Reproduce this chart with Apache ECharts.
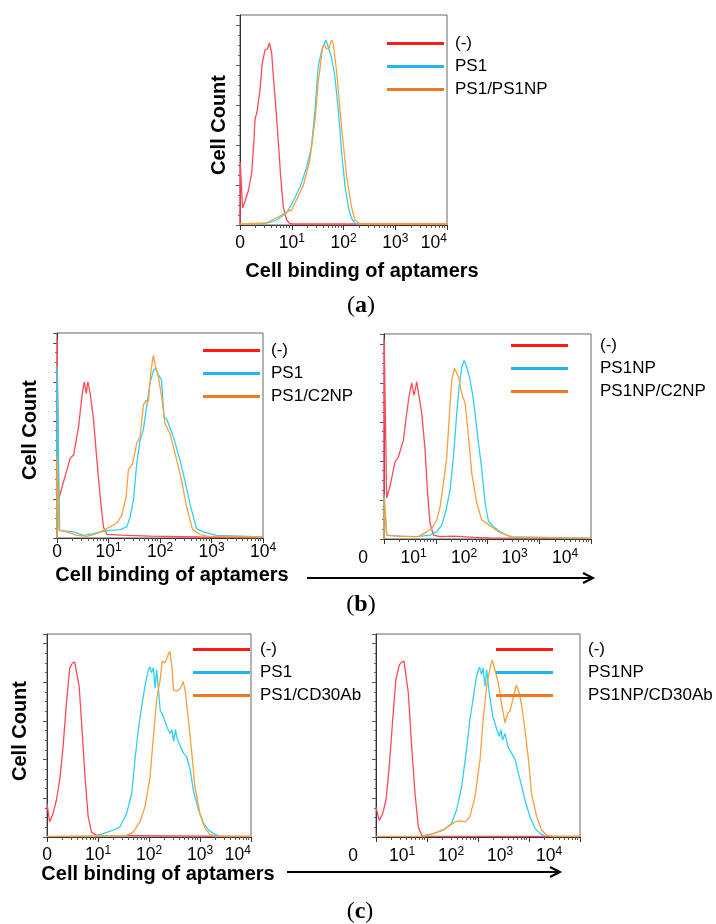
<!DOCTYPE html>
<html>
<head>
<meta charset="utf-8">
<script src="https://cdn.jsdelivr.net/npm/echarts@6.0.0/dist/echarts.min.js"></script>
<style>
  body { margin: 0; background: #fff; }
  #chart { width: 716px; height: 924px; }
</style>
</head>
<body>
<div id="chart"></div>
<script>
/* x values are in decades of the log axis (0 = left edge "0", 4 = 10^4), y in relative cell count */

var xTickLabels = ["0", "10^1", "10^2", "10^3", "10^4"];

// (a)
var aNeg = [[0,0],[0.004,6.3],[0.05,1.7],[0.10,2.4],[0.16,3.4],[0.226,5.2],[0.27,8.5],[0.29,10.6],[0.33,11.3],[0.386,13.5],[0.43,16.2],[0.483,17.5],[0.53,17.6],[0.567,18.2],[0.612,17.2],[0.65,14.5],[0.696,11.5],[0.741,8.3],[0.786,4.8],[0.837,1.8],[0.902,0.5],[0.96,0.15],[1.03,0.1],[4,0.1]];
var aPS1 = [[0.386,0.1],[0.6,0.3],[0.71,0.5],[0.90,1.2],[1.03,2.4],[1.16,3.8],[1.29,5.8],[1.38,7.8],[1.45,11.5],[1.51,15.8],[1.58,17.5],[1.66,18.5],[1.70,17.9],[1.77,16.7],[1.83,15.0],[1.90,11.5],[1.96,7.5],[2.03,3.8],[2.09,1.9],[2.15,0.7],[2.22,0.2],[2.3,0.05]];
var aPS1NP = [[0,0.1],[0.515,0.2],[0.77,0.9],[0.93,1.4],[1.0,1.5],[1.09,2.5],[1.22,3.9],[1.35,6.5],[1.45,10.5],[1.51,14.2],[1.60,17.9],[1.64,18.0],[1.67,17.6],[1.72,17.7],[1.77,18.5],[1.80,18.2],[1.87,15.2],[1.96,9.9],[2.06,4.9],[2.15,1.9],[2.22,0.5],[2.32,0.1],[4,0.1]];

// (b) left
var b1Neg = [[0,0],[0.003,20.5],[0.03,3.9],[0.097,5.2],[0.194,7.0],[0.258,8.2],[0.323,8.5],[0.419,11.4],[0.484,14.5],[0.529,16.0],[0.568,14.8],[0.60,16.0],[0.645,14.8],[0.71,12.1],[0.774,8.0],[0.839,4.2],[0.903,1.1],[0.968,0.38],[1.23,0.3],[1.81,0.2],[2.77,0.1],[4,0.07]];
var b1PS1 = [[0,0],[0.003,17.6],[0.052,0.79],[0.129,0.72],[0.323,0.62],[0.516,0.27],[0.71,0.45],[0.839,0.62],[1.032,0.79],[1.226,0.86],[1.355,1.13],[1.419,2.16],[1.484,3.87],[1.548,7.6],[1.613,10.0],[1.677,11.1],[1.742,13.5],[1.806,15.9],[1.871,17.1],[1.916,17.4],[1.968,16.7],[2.03,16.2],[2.077,12.4],[2.129,12.2],[2.258,10.4],[2.387,8.0],[2.484,5.9],[2.581,3.5],[2.71,0.96],[2.839,0.62],[3.097,0.27],[4,0.1]];
var b1C2NP = [[0,0],[0.003,8.3],[0.039,0.79],[0.194,0.62],[0.387,0.27],[0.581,0.17],[0.774,0.45],[0.968,0.96],[1.161,1.54],[1.258,2.33],[1.342,4.2],[1.387,7.0],[1.465,7.6],[1.548,9.7],[1.613,10.4],[1.677,13.6],[1.723,14.1],[1.774,14.0],[1.826,17.2],[1.871,18.7],[1.91,17.6],[1.968,16.5],[2.032,14.5],[2.097,11.7],[2.194,10.7],[2.323,8.0],[2.419,5.9],[2.516,3.2],[2.632,0.86],[2.774,0.38],[2.903,0.2],[4,0.1]];

// (b) right
var b2Neg = [[0,0],[0.003,20.5],[0.052,4.2],[0.116,5.4],[0.213,7.9],[0.277,8.4],[0.374,10.1],[0.439,12.9],[0.484,14.6],[0.535,16.0],[0.581,14.7],[0.632,16.1],[0.677,14.6],[0.729,12.9],[0.794,9.1],[0.839,5.0],[0.89,1.6],[0.955,0.4],[1.084,0.24],[1.342,0.3],[1.729,0.17],[2.05,0.1],[4,0.07]];
var b2PS1NP = [[0,0],[0.003,4.5],[0.052,0.4],[0.31,0.3],[0.632,0.24],[0.89,0.4],[1.02,0.75],[1.116,1.43],[1.2,3.0],[1.277,5.0],[1.342,8.4],[1.406,12.9],[1.458,15.9],[1.503,17.6],[1.548,18.3],[1.6,17.6],[1.665,16.3],[1.729,14.2],[1.794,11.2],[1.89,7.1],[1.955,3.65],[2.019,1.8],[2.116,1.26],[2.245,0.75],[2.374,0.4],[2.471,0.17],[4,0.07]];
var b2C2NP = [[0,0],[0.003,4.2],[0.052,0.4],[0.116,0.34],[0.44,0.24],[0.665,0.24],[0.826,0.75],[0.923,1.1],[1.02,1.95],[1.084,3.3],[1.148,5.7],[1.213,8.4],[1.265,12.9],[1.31,16.3],[1.361,17.5],[1.394,17.6],[1.439,16.6],[1.503,14.9],[1.568,13.9],[1.632,10.5],[1.697,6.7],[1.794,3.65],[1.89,1.95],[1.987,1.6],[2.116,1.1],[2.245,0.65],[2.374,0.4],[2.471,0.24],[4,0.07]];

// (c) left
var c1Neg = [[0,3.46],[0.052,1.56],[0.118,2.4],[0.184,3.8],[0.249,5.9],[0.315,9.3],[0.38,13.8],[0.446,17.5],[0.498,18.0],[0.544,18.1],[0.577,18.0],[0.63,15.6],[0.675,12.1],[0.741,6.6],[0.807,2.1],[0.872,0.5],[0.97,0.17],[4,0.07]];
var c1PS1 = [[0.97,0.17],[1.1,0.35],[1.3,0.7],[1.43,1.04],[1.56,2.4],[1.66,4.5],[1.725,8.0],[1.79,11.1],[1.856,13.5],[1.921,15.6],[1.987,17.3],[2.02,17.6],[2.05,17.0],[2.085,17.5],[2.12,15.4],[2.15,17.3],[2.18,15.6],[2.22,13.1],[2.28,12.5],[2.35,11.4],[2.41,10.7],[2.45,11.1],[2.48,9.9],[2.52,11.1],[2.55,10.2],[2.62,9.3],[2.68,8.65],[2.74,8.3],[2.81,6.9],[2.87,4.8],[2.97,2.8],[3.07,1.4],[3.17,0.7],[3.27,0.35],[3.36,0.14]];
var c1CD30 = [[0,0.07],[1.56,0.17],[1.69,0.5],[1.82,1.56],[1.92,3.1],[2.02,6.2],[2.08,10.0],[2.15,14.2],[2.22,16.3],[2.26,18.2],[2.31,18.0],[2.35,18.5],[2.38,18.9],[2.41,19.2],[2.45,17.6],[2.48,15.2],[2.55,15.1],[2.62,15.4],[2.67,16.1],[2.71,15.1],[2.78,11.8],[2.84,8.65],[2.9,5.2],[3.0,2.4],[3.1,0.87],[3.2,0.24],[3.33,0.07],[4,0.07]];

// (c) right
var c2Neg = [[0,3.1],[0.065,1.7],[0.13,2.4],[0.196,3.8],[0.26,7.3],[0.327,12.1],[0.39,16.3],[0.458,17.8],[0.503,18.1],[0.549,18.2],[0.588,18.0],[0.634,14.9],[0.70,9.3],[0.765,4.5],[0.83,1.04],[0.895,0.17],[1.06,0.07],[4,0.07]];
var c2PS1NP = [[0.93,0.14],[1.124,0.35],[1.32,0.7],[1.48,1.4],[1.58,2.8],[1.68,5.2],[1.78,9.3],[1.84,12.1],[1.91,14.5],[1.97,16.6],[2.03,17.6],[2.07,16.8],[2.10,17.5],[2.14,15.6],[2.17,17.3],[2.22,14.9],[2.29,12.5],[2.37,11.1],[2.42,10.4],[2.45,11.1],[2.48,10.0],[2.53,10.7],[2.59,9.3],[2.66,8.65],[2.73,8.0],[2.79,6.6],[2.86,5.2],[2.92,3.8],[3.02,2.1],[3.12,0.87],[3.22,0.35],[3.31,0.1]];
var c2CD30 = [[0,0.07],[0.93,0.07],[1.12,0.35],[1.32,0.76],[1.45,1.2],[1.55,1.56],[1.65,1.66],[1.75,1.56],[1.84,2.1],[1.94,4.15],[2.04,8.0],[2.10,12.1],[2.17,15.6],[2.24,17.6],[2.28,18.3],[2.33,17.3],[2.40,15.9],[2.47,13.5],[2.53,11.8],[2.58,12.8],[2.63,13.0],[2.68,14.2],[2.75,15.7],[2.80,15.1],[2.86,13.5],[2.92,11.1],[2.99,8.0],[3.05,4.5],[3.15,2.1],[3.25,0.7],[3.35,0.17],[3.48,0.07],[4,0.07]];

var font = "Liberation Sans";
var legendRed = "#ff1a1a", legendBlue = "#1fb6ef", legendOrange = "#ef7a22";
var lineRed = "#ff4a57", lineBlue = "#2fd0ef", lineOrange = "#f7a03c";

// minor ticks of the log axis, 2..9 in each decade
var minorTicks = [];
for (var d = 0; d < 4; d++) {
  for (var k = 2; k < 10; k++) {
    minorTicks.push(d + Math.log10(k));
  }
}

function tickLabel(value) {
  var s = xTickLabels[Math.round(value)];
  if (s.indexOf("^") < 0) return "{n|" + s + "}";
  var p = s.split("^");
  return "{n|" + p[0] + "}{s|" + p[1] + "}";
}

var labelRich = {
  n: { fontSize: 17.5, fontFamily: font, color: "#000", lineHeight: 20 },
  s: { fontSize: 12, fontFamily: font, color: "#000", lineHeight: 14, verticalAlign: "top" }
};

// plot boxes [left, top, width, height]
var boxes = [
  [240, 15, 207, 210],
  [57, 333, 206, 205],
  [384, 334, 207, 205],
  [47, 634, 204, 203],
  [376, 634, 204, 203]
];
// shifted tick label rows under the right hand plots
var labelRows = [
  [363, 539, 202],
  [353, 837, 196]
];

var grids = [], xAxes = [], yAxes = [];
boxes.forEach(function (b, i) {
  grids.push({
    left: b[0], top: b[1], width: b[2], height: b[3],
    show: true, borderColor: "#666", borderWidth: 1, containLabel: false
  });
  var showLabels = i === 0 || i === 1 || i === 3;
  xAxes.push({
    type: "value", gridIndex: i, min: 0, max: 4, interval: 1,
    axisLine: { show: true, onZero: false, lineStyle: { color: "#333", width: 1 } },
    axisTick: { show: true, length: 5, lineStyle: { color: "#333" } },
    splitLine: { show: false },
    axisLabel: {
      show: showLabels, margin: i === 1 ? 4 : 8, formatter: tickLabel, rich: labelRich,
      alignMaxLabel: i === 1 ? "center" : "right"
    }
  });
  xAxes.push({
    type: "value", gridIndex: i, min: 0, max: 4, position: "bottom",
    axisLine: { show: false },
    axisTick: { show: true, length: 3, customValues: minorTicks, lineStyle: { color: "#555" } },
    axisLabel: { show: false },
    splitLine: { show: false }
  });
  yAxes.push({
    type: "value", gridIndex: i, min: 0, max: 21, interval: 4,
    axisLine: { show: true, lineStyle: { color: "#333" } },
    axisTick: { show: true, length: 4, lineStyle: { color: "#555" } },
    minorTick: { show: true, splitNumber: 4, length: 2, lineStyle: { color: "#666" } },
    axisLabel: { show: false },
    splitLine: { show: false }
  });
});
labelRows.forEach(function (r, j) {
  var gi = boxes.length + j;
  grids.push({ left: r[0], top: r[1], width: r[2], height: 1, show: false });
  xAxes.push({
    type: "value", gridIndex: gi, min: 0, max: 4, interval: 1,
    axisLine: { show: false }, axisTick: { show: false }, splitLine: { show: false },
    axisLabel: { show: true, margin: 8, formatter: tickLabel, rich: labelRich }
  });
  yAxes.push({ type: "value", gridIndex: gi, show: false });
});

function curve(name, data, panel, kind) {
  var lc = kind === 0 ? lineRed : kind === 1 ? lineBlue : lineOrange;
  var ic = kind === 0 ? legendRed : kind === 1 ? legendBlue : legendOrange;
  return {
    name: name, type: "line", data: data,
    xAxisIndex: panel * 2, yAxisIndex: panel,
    showSymbol: false, symbol: "none", silent: true,
    itemStyle: { color: ic },
    lineStyle: { color: lc, width: 1.3 }
  };
}

var series = [
  curve("(-)", aNeg, 0, 0), curve("PS1", aPS1, 0, 1), curve("PS1/PS1NP", aPS1NP, 0, 2),
  curve("(-)", b1Neg, 1, 0), curve("PS1", b1PS1, 1, 1), curve("PS1/C2NP", b1C2NP, 1, 2),
  curve("(-)", b2Neg, 2, 0), curve("PS1NP", b2PS1NP, 2, 1), curve("PS1NP/C2NP", b2C2NP, 2, 2),
  curve("(-)", c1Neg, 3, 0), curve("PS1", c1PS1, 3, 1), curve("PS1/CD30Ab", c1CD30, 3, 2),
  curve("(-)", c2Neg, 4, 0), curve("PS1NP", c2PS1NP, 4, 1), curve("PS1NP/CD30Ab", c2CD30, 4, 2)
];

function legendBox(names, left, top, textGap) {
  return {
    data: names, left: left, top: top, orient: "vertical",
    padding: 0, itemGap: 6, itemWidth: 57, itemHeight: 3, icon: "rect",
    selectedMode: false,
    textStyle: { fontSize: 17, fontFamily: font, color: "#000", lineHeight: 17, padding: [0, 0, 0, textGap] }
  };
}

var legends = [
  legendBox(["(-)", "PS1", "PS1/PS1NP"], 387, 35, 6),
  legendBox(["(-)", "PS1", "PS1/C2NP"], 203, 342, 6),
  legendBox(["(-)", "PS1NP", "PS1NP/C2NP"], 511, 337, 27),
  legendBox(["(-)", "PS1", "PS1/CD30Ab"], 193, 641, 5),
  legendBox(["(-)", "PS1NP", "PS1NP/CD30Ab"], 496, 641, 30)
];

var titleFont = "bold 20px " + font;
function yTitle(x, y) {
  return { type: "text", x: x, y: y, rotation: Math.PI / 2,
    style: { text: "Cell Count", font: titleFont, fill: "#000", align: "center", verticalAlign: "middle" } };
}
function xTitle(x, y) {
  return { type: "text", x: x, y: y,
    style: { text: "Cell binding of aptamers", font: titleFont, fill: "#000", align: "center", verticalAlign: "middle" } };
}
function arrow(x1, x2, y) {
  return { type: "group", children: [
    { type: "line", shape: { x1: x1, y1: y, x2: x2 - 2, y2: y }, style: { stroke: "#000", lineWidth: 2 } },
    { type: "polyline", shape: { points: [[x2 - 10, y - 5], [x2, y], [x2 - 10, y + 5]] }, style: { stroke: "#000", lineWidth: 2, fill: null } }
  ] };
}
function panelTag(letter, x, y) {
  return { type: "text", x: x, y: y,
    style: {
      text: "{p|(}{l|" + letter + "}{p|)}", align: "center", verticalAlign: "middle",
      rich: {
        p: { fontSize: 24, fontFamily: "Liberation Serif", color: "#000" },
        l: { fontSize: 24, fontFamily: "Liberation Serif", fontWeight: "bold", color: "#000" }
      }
    } };
}

var graphics = [
  yTitle(219, 125), yTitle(30, 430), yTitle(20, 731),
  xTitle(362, 271), xTitle(172, 575), xTitle(158, 874),
  arrow(307, 593, 578), arrow(287, 560, 872),
  panelTag("a", 361, 306), panelTag("b", 361, 605), panelTag("c", 360, 912)
];

var myChart = echarts.init(document.getElementById("chart"), null, { renderer: "canvas" });
var option = {
  animation: false,
  backgroundColor: "#fff",
  grid: grids,
  xAxis: xAxes,
  yAxis: yAxes,
  legend: legends,
  series: series,
  graphic: graphics
};
myChart.setOption(option);
window.addEventListener("resize", myChart.resize);
</script>
</body>
</html>
